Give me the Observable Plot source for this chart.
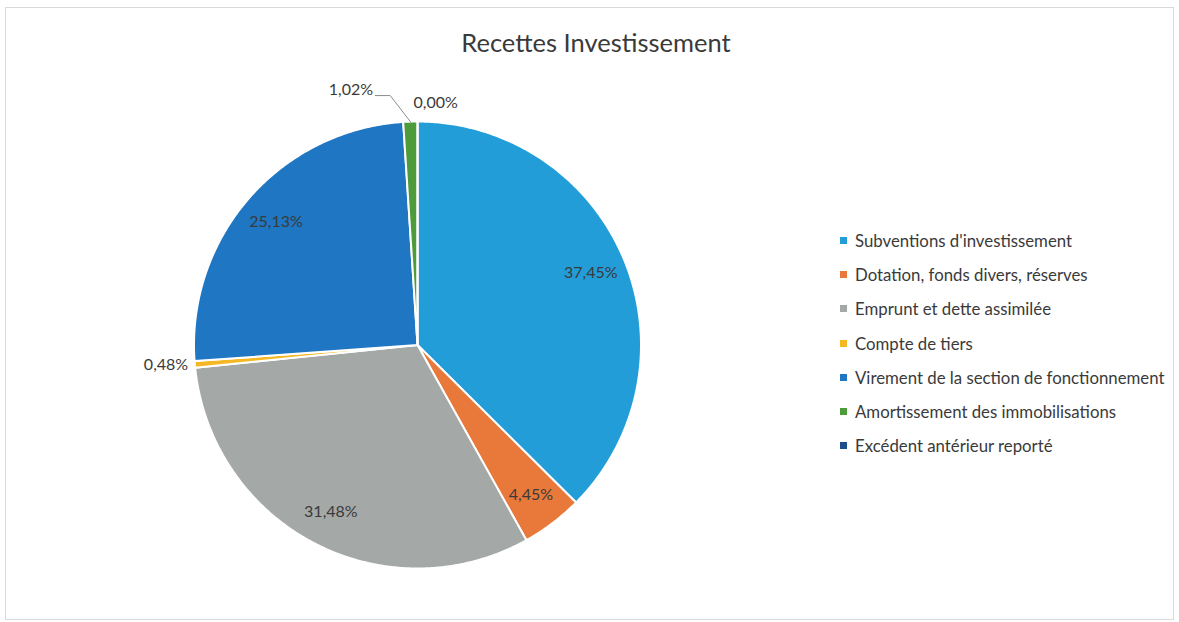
<!DOCTYPE html>
<html>
<head>
<meta charset="utf-8">
<script src="https://cdn.jsdelivr.net/npm/d3@7"></script>
<script src="https://cdn.jsdelivr.net/npm/@observablehq/plot@0.6"></script>
<style>
  html, body { margin: 0; padding: 0; background: #fff; }
  #wrap { position: relative; width: 1179px; height: 622px; overflow: hidden; font-family: Lato, "Open Sans", sans-serif; }
  #frame { position: absolute; left: 5px; top: 7px; width: 1169px; height: 613px; border: 1px solid #d9d9d9; box-sizing: border-box; }
  #title { position: absolute; left: 0; width: 1192px; top: 27px; text-align: center; font-size: 25.5px; color: #3a3a3a; }
  #chart { position: absolute; left: 0; top: 0; }
  #legend { position: absolute; left: 840px; top: 223px; font-size: 16.8px; color: #3a3a3a; }
  .item { height: 34.3px; display: flex; align-items: center; white-space: nowrap; }
  .sw { width: 7px; height: 7px; margin-right: 8px; flex: none; }
</style>
</head>
<body>
<div id="wrap">
  <div id="frame"></div>
  <div id="chart"></div>
  <div id="title"></div>
  <div id="legend"></div>
</div>
<script>
const title = "Recettes Investissement";
const categories = [
  "Subventions d'investissement",
  "Dotation, fonds divers, réserves",
  "Emprunt et dette assimilée",
  "Compte de tiers",
  "Virement de la section de fonctionnement",
  "Amortissement des immobilisations",
  "Excédent antérieur reporté"
];
const values = [37.45, 4.45, 31.48, 0.48, 25.13, 1.02, 0.00];
const colors = ["#239dd8", "#e8793a", "#a4a9a8", "#f3b824", "#1f76c2", "#4e9b3c", "#1f4e8c"];

const fmt = v => v.toFixed(2).replace(".", ",") + "%";
const data = categories.map((c, i) => ({cat: c, value: values[i], label: fmt(values[i])}));

// pie geometry (unit circle, angle clockwise from 12 o'clock)
const arcs = d3.pie().sort(null).value(d => d.value).startAngle(0).endAngle(2 * Math.PI)(data);
const pt = (a, r) => ({x: r * Math.sin(a), y: r * Math.cos(a)});

const polys = [];
arcs.forEach(a => {
  const n = Math.max(2, Math.ceil((a.endAngle - a.startAngle) / (Math.PI / 360)));
  polys.push({cat: a.data.cat, ...pt(0, 0)});
  for (let k = 0; k <= n; k++) {
    const t = a.startAngle + (a.endAngle - a.startAngle) * k / n;
    polys.push({cat: a.data.cat, ...pt(t, 1)});
  }
  polys.push({cat: a.data.cat, ...pt(0, 0)});
});

const mid = a => (a.startAngle + a.endAngle) / 2;
// inside labels for large slices
const inside = arcs.filter(a => a.data.value >= 2).map(a => ({...pt(mid(a), 0.84), label: a.data.label}));
// small slices: outside labels
const small = arcs.filter(a => a.data.value < 2);
const leftOut = small.filter(a => a.data.value > 0 && mid(a) < 1.9 * Math.PI).map(a => ({...pt(mid(a), 1.03), label: a.data.label}));
const topLead = small.filter(a => a.data.value > 0 && mid(a) >= 1.9 * Math.PI);
const leaders = [];
const leadLabels = [];
topLead.forEach(a => {
  const p0 = pt(mid(a), 1.0);
  const elbow = {x: p0.x - 0.09, y: 1.116};
  const end = {x: elbow.x - 0.067, y: 1.116};
  leaders.push({g: a.data.cat, ...p0}, {g: a.data.cat, ...elbow}, {g: a.data.cat, ...end});
  leadLabels.push({x: end.x - 0.01, y: 1.14, label: a.data.label});
});
const zeroLab = small.filter(a => a.data.value === 0).map(a => ({...pt(mid(a), 1.085), label: a.data.label}));

const cx = 417, cy = 344.5, R = 223.5;
const textOpts = {fontFamily: "Lato, 'Open Sans', sans-serif", fontSize: 16, fill: "#3a3a3a"};

const chart = Plot.plot({
  width: 1179,
  height: 622,
  margin: 0,
  x: {domain: [-1, 1], range: [cx - R, cx + R], axis: null},
  y: {domain: [-1, 1], range: [cy + R, cy - R], axis: null},
  color: {domain: categories, range: colors},
  style: {background: "transparent", overflow: "visible"},
  marks: [
    Plot.line(polys, {x: "x", y: "y", z: "cat", fill: "cat", stroke: "white", strokeWidth: 2, strokeLinejoin: "round", curve: "linear"}),
    Plot.line(leaders, {x: "x", y: "y", z: "g", stroke: "#8c8c8c", strokeWidth: 1}),
    Plot.text(inside, {x: "x", y: "y", text: "label", ...textOpts}),
    Plot.text(leftOut, {x: "x", y: "y", text: "label", textAnchor: "end", ...textOpts}),
    Plot.text(leadLabels, {x: "x", y: "y", text: "label", textAnchor: "end", ...textOpts}),
    Plot.text(zeroLab, {x: "x", y: "y", text: "label", textAnchor: "start", dx: -4, ...textOpts})
  ]
});
document.getElementById("chart").appendChild(chart);
document.getElementById("title").textContent = title;

const legend = document.getElementById("legend");
categories.forEach((c, i) => {
  const item = document.createElement("div");
  item.className = "item";
  const sw = document.createElement("span");
  sw.className = "sw";
  sw.style.background = colors[i];
  const tx = document.createElement("span");
  tx.textContent = c;
  item.appendChild(sw);
  item.appendChild(tx);
  legend.appendChild(item);
});
</script>
</body>
</html>
